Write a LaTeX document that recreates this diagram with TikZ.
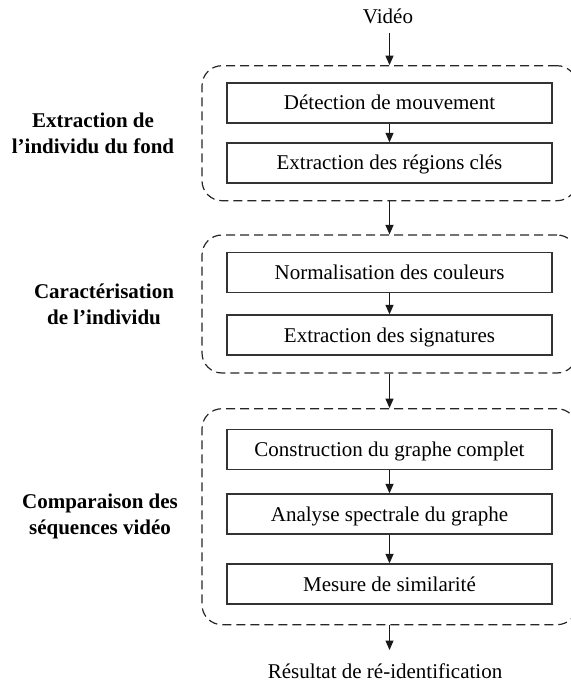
\documentclass[tikz,border=0pt]{standalone}
\usepackage{fontspec}
\setmainfont{Liberation Serif}
\usetikzlibrary{arrows.meta,calc}
\begin{document}
\begin{tikzpicture}[x=1pt,y=-1pt,
  stepbox/.style={draw=black!80, line width=1.3pt, minimum width=325pt, minimum height=40pt, inner sep=0pt, text height=14pt, text depth=0pt, font=\fontsize{21}{25}\selectfont},
  grp/.style={draw=black!85, line width=1.2pt, dash pattern=on 9pt off 5pt, rounded corners=20pt, minimum width=375pt, inner sep=0pt},
  lbl/.style={align=center, font=\fontsize{21}{26}\selectfont\bfseries, inner sep=0pt},
  io/.style={font=\fontsize{21}{25}\selectfont, inner sep=0pt},
  arr/.style={draw=black!90, line width=1.2pt, -{Triangle[length=9.5pt,width=8pt]}}
]
\useasboundingbox (0,0) rectangle (570,684);
% groups
\node[grp, minimum height=135pt] (g1) at (389.5,133.2) {};
\node[grp, minimum height=138pt] (g2) at (389.5,304) {};
\node[grp, minimum height=216pt] (g3) at (389.5,516.7) {};
% steps
\node[stepbox] (b1) at (389.5,103) {Détection de mouvement};
\node[stepbox] (b2) at (389.5,163) {Extraction des régions clés};
\node[stepbox] (b3) at (389.5,272.5) {Normalisation des couleurs};
\node[stepbox] (b4) at (389.5,335) {Extraction des signatures};
\node[stepbox] (b5) at (389.5,449.3) {Construction du graphe complet};
\node[stepbox] (b6) at (389.5,514) {Analyse spectrale du graphe};
\node[stepbox] (b7) at (389.5,584) {Mesure de similarité};
% input / output
\node[io, anchor=base] (vid) at (388,24) {Vidéo};
\node[io, anchor=base] (res) at (385,678) {Résultat de ré-identification};
% labels
\node[lbl] (l1) at (93,133) {Extraction de\\l’individu du fond};
\node[lbl] (l2) at (104,304) {Caractérisation\\de l’individu};
\node[lbl] (l3) at (100,516) {Comparaison des\\séquences vidéo};
% arrows
\draw[arr] ($(vid.base -| g1.north)+(0,9)$) -- (g1.north);
\draw[arr] (b1) -- (b2);
\draw[arr] (g1) -- (g2);
\draw[arr] (b3) -- (b4);
\draw[arr] (g2) -- (g3);
\draw[arr] (b5) -- (b6);
\draw[arr] (b6) -- (b7);
\draw[arr] (g3.south) -- ($(res.base -| g3.south)+(0,-28)$);
\end{tikzpicture}
\end{document}
